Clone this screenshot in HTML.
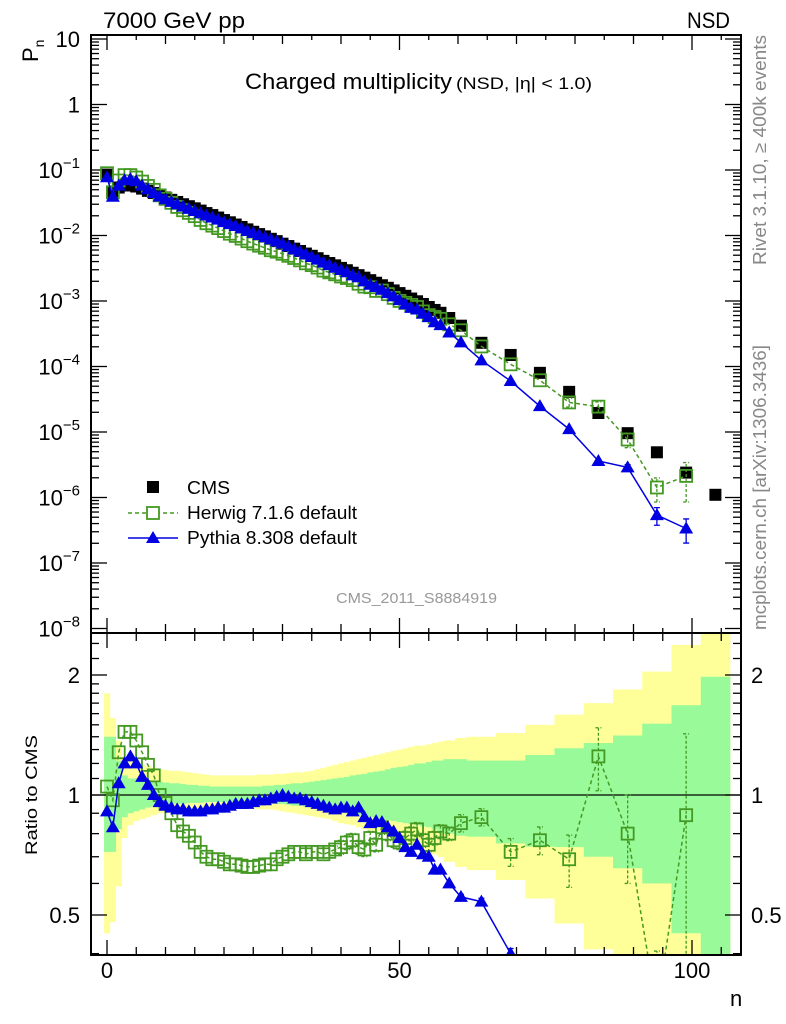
<!DOCTYPE html>
<html><head><meta charset="utf-8"><style>
html,body{margin:0;padding:0;background:#fff;overflow:hidden;width:786px;height:1024px;}
svg{display:block;font-family:"Liberation Sans",sans-serif;}
</style></head><body>
<svg id="chart" width="786" height="1024" viewBox="0 0 786 1024" xmlns="http://www.w3.org/2000/svg">
<defs>
<clipPath id="clipMain"><rect x="91" y="35" width="650" height="598"/></clipPath>
<clipPath id="clipRatio"><rect x="91" y="633" width="650" height="322"/></clipPath>
</defs>
<g id="bands" clip-path="url(#clipRatio)"></g>
<g id="grid"></g>
<g id="mainMarks" clip-path="url(#clipMain)"></g>
<g id="ratioMarks" clip-path="url(#clipRatio)"></g>
<rect x="91" y="35" width="650" height="598" fill="none" stroke="#000" stroke-width="2"/>
<rect x="91" y="633" width="650" height="322" fill="none" stroke="#000" stroke-width="2"/>
<text x="103" y="28" font-size="22" textLength="142" lengthAdjust="spacingAndGlyphs">7000 GeV pp</text>
<text x="687" y="28" font-size="22" textLength="43" lengthAdjust="spacingAndGlyphs">NSD</text>
<text transform="translate(38,62) rotate(-90)" font-size="22">P<tspan font-size="14" dy="6">n</tspan></text>
<text x="245" y="89" font-size="22" textLength="207" lengthAdjust="spacingAndGlyphs">Charged multiplicity</text>
<text x="456" y="89" font-size="17" textLength="136" lengthAdjust="spacingAndGlyphs">(NSD, |η| &lt; 1.0)</text>
<text transform="translate(766,265) rotate(-90)" font-size="18" fill="#888" textLength="230" lengthAdjust="spacingAndGlyphs">Rivet 3.1.10, ≥ 400k events</text>
<text transform="translate(766,630) rotate(-90)" font-size="18" fill="#888" textLength="285" lengthAdjust="spacingAndGlyphs">mcplots.cern.ch [arXiv:1306.3436]</text>
<text x="336" y="603" font-size="15" fill="#999" textLength="161" lengthAdjust="spacingAndGlyphs">CMS_2011_S8884919</text>
<text transform="translate(37,855) rotate(-90)" font-size="17" textLength="120" lengthAdjust="spacingAndGlyphs">Ratio to CMS</text>
<text x="730" y="1006" font-size="22">n</text>
<g>
<rect x="147" y="481" width="12" height="12" fill="#000"/>
<text x="187" y="494" font-size="18" textLength="43" lengthAdjust="spacingAndGlyphs">CMS</text>
<line x1="128" y1="513" x2="178" y2="513" stroke="#449922" stroke-width="1.5" stroke-dasharray="4,3"/>
<rect x="147" y="507" width="12" height="12" fill="#fff" stroke="#449922" stroke-width="1.8"/>
<text x="187" y="519" font-size="18" textLength="170" lengthAdjust="spacingAndGlyphs">Herwig 7.1.6 default</text>
<line x1="128" y1="538" x2="178" y2="538" stroke="#0000e0" stroke-width="1.5"/>
<polygon points="153,531 160,543 146,543" fill="#0000e0"/>
<text x="187" y="544" font-size="18" textLength="170" lengthAdjust="spacingAndGlyphs">Pythia 8.308 default</text>
</g>
</svg>
<script>
const edges = [-0.5,0.5,1.5,2.5,3.5,4.5,5.5,6.5,7.5,8.5,9.5,10.5,11.5,12.5,13.5,14.5,15.5,16.5,17.5,18.5,19.5,20.5,21.5,22.5,23.5,24.5,25.5,26.5,27.5,28.5,29.5,30.5,31.5,32.5,33.5,34.5,35.5,36.5,37.5,38.5,39.5,40.5,41.5,42.5,43.5,44.5,45.5,46.5,47.5,48.5,49.5,50.5,51.5,52.5,53.5,54.5,55.5,56.5,57.5,59.5,61.5,66.5,71.5,76.5,81.5,86.5,91.5,96.5,101.5,106.5];
const cmsValues = [.085,.047,.054,.058,.058,.056,.052,.048,.0445,.041,
.038,.035,.0325,.030,.028,.026,.024,.022,.0205,.0188,
.0172,.0159,.0147,.0135,.0124,.0114,.0105,.0097,.0089,.0082,
.0075,.0069,.0063,.0058,.0053,.0049,.0045,.0041,.0038,.0035,
.0032,.00295,.0027,.00248,.00227,.00208,.0019,.00174,.00159,.00145,
.00132,.0012,.00109,.00099,.0009,.00081,.00073,.00066,
.00055,.00042,.00023,.00015,.00008,.000041,.0000195,.0000096,.0000049,.0000024,.0000011];
const herwigRatio = [1.05,0.97,1.28,1.44,1.44,1.37,1.28,1.19,1.12,1.0,
0.955,0.90,0.84,0.81,0.79,0.76,0.72,0.70,0.69,0.69,
0.68,0.67,0.67,0.665,0.66,0.66,0.665,0.67,0.67,0.69,
0.70,0.71,0.72,0.72,0.71,0.72,0.72,0.71,0.72,0.73,
0.74,0.76,0.77,0.74,0.73,0.78,0.75,0.83,0.80,0.77,
0.76,0.78,0.80,0.82,0.77,0.75,0.78,0.81,
0.80,0.85,0.88,0.72,0.77,0.69,1.25,0.80,0.29,0.89,null];
// relative uncertainties (fraction of value)
const herwigErr = [0.01,0.01,0.01,0.01,0.01,0.01,0.01,0.01,0.01,0.01,
0.01,0.01,0.01,0.01,0.01,0.01,0.01,0.01,0.01,0.01,
0.01,0.01,0.01,0.01,0.01,0.01,0.01,0.01,0.01,0.01,
0.01,0.01,0.01,0.01,0.01,0.01,0.01,0.01,0.01,0.02,
0.04,0.04,0.04,0.04,0.04,0.04,0.04,0.04,0.04,0.04,
0.04,0.04,0.04,0.04,0.04,0.04,0.04,0.04,
0.04,0.05,0.05,0.08,0.08,0.15,0.18,0.25,0.4,0.6,0];
const pythiaRatio = [0.91,0.83,1.07,1.20,1.25,1.20,1.11,1.06,1.0,0.96,
0.94,0.93,0.92,0.92,0.91,0.91,0.91,0.92,0.92,0.93,
0.93,0.94,0.95,0.95,0.95,0.96,0.97,0.97,0.98,0.99,
1.0,0.99,0.98,0.98,0.97,0.96,0.95,0.94,0.93,0.92,
0.93,0.93,0.91,0.93,0.88,0.85,0.86,0.855,0.83,0.81,
0.78,0.74,0.72,0.75,0.71,0.70,0.65,0.65,
0.60,0.555,0.54,0.40,0.31,0.27,0.185,0.30,0.11,0.14,null];
const pythiaErr = [0.005,0.005,0.005,0.005,0.005,0.005,0.005,0.005,0.005,0.005,
0.005,0.005,0.005,0.005,0.005,0.005,0.005,0.005,0.005,0.005,
0.005,0.005,0.005,0.005,0.005,0.005,0.005,0.005,0.005,0.005,
0.005,0.005,0.005,0.005,0.005,0.005,0.005,0.005,0.005,0.005,
0.01,0.01,0.01,0.01,0.01,0.01,0.01,0.01,0.01,0.01,
0.01,0.01,0.01,0.01,0.01,0.01,0.01,0.01,
0.01,0.015,0.02,0.03,0.04,0.05,0.08,0.1,0.3,0.4,0];
const yellowHi = [1.80,1.56,1.37,1.25,1.22,1.20,1.19,1.18,1.17,1.16,
1.155,1.15,1.15,1.145,1.14,1.135,1.13,1.125,1.12,1.12,
1.12,1.12,1.12,1.12,1.12,1.12,1.125,1.125,1.125,1.13,
1.13,1.135,1.14,1.14,1.145,1.15,1.16,1.17,1.18,1.19,
1.20,1.21,1.22,1.23,1.24,1.25,1.26,1.27,1.28,1.29,
1.30,1.31,1.32,1.33,1.33,1.34,1.35,1.36,
1.37,1.39,1.40,1.43,1.50,1.59,1.70,1.84,2.04,2.38,3.0];
const yellowLo = [0.45,0.48,0.59,0.78,0.84,0.86,0.87,0.88,0.89,0.90,
0.90,0.905,0.91,0.91,0.915,0.915,0.92,0.92,0.92,0.92,
0.925,0.925,0.925,0.925,0.925,0.925,0.92,0.92,0.92,0.915,
0.91,0.905,0.90,0.895,0.89,0.885,0.88,0.875,0.87,0.86,
0.85,0.845,0.84,0.83,0.82,0.815,0.81,0.80,0.79,0.78,
0.77,0.76,0.75,0.74,0.73,0.72,0.71,0.70,
0.68,0.66,0.648,0.612,0.55,0.476,0.41,0.3,0.3,0.3,0.3];
const greenHi = [1.40,1.40,1.22,1.12,1.10,1.10,1.09,1.09,1.08,1.08,
1.075,1.07,1.07,1.065,1.06,1.06,1.055,1.055,1.05,1.05,
1.05,1.05,1.05,1.05,1.05,1.05,1.05,1.055,1.055,1.06,
1.06,1.065,1.07,1.07,1.075,1.08,1.085,1.09,1.095,1.10,
1.105,1.11,1.12,1.125,1.13,1.14,1.145,1.15,1.16,1.17,
1.175,1.18,1.19,1.20,1.20,1.21,1.22,1.22,
1.23,1.23,1.22,1.22,1.26,1.31,1.35,1.41,1.51,1.68,1.98];
const greenLo = [0.72,0.72,0.82,0.88,0.90,0.91,0.92,0.93,0.935,0.94,
0.945,0.95,0.95,0.95,0.955,0.955,0.955,0.96,0.96,0.96,
0.96,0.96,0.96,0.96,0.96,0.96,0.96,0.955,0.955,0.95,
0.95,0.945,0.94,0.94,0.935,0.93,0.925,0.92,0.915,0.91,
0.905,0.90,0.895,0.89,0.885,0.88,0.875,0.87,0.865,0.86,
0.855,0.85,0.845,0.84,0.835,0.83,0.82,0.81,
0.80,0.79,0.786,0.756,0.742,0.74,0.70,0.655,0.60,0.45,0.3];
const xTickLabels = ["0","50","100"];
const xTickValues = [0,50,100];
const ratioTickValues = [0.5,1,2];
const ratioTickLabels = ["0.5","1","2"];

const NS = "http://www.w3.org/2000/svg";
const XR = 741;
function X(n){ return 107 + n*5.85; }
function Ym(v){ return 104.5 - 65.5*Math.log10(v); }
function Yr(r){ return 795 - 120*Math.log2(r); }
function mk(tag, attrs, parent){ const e=document.createElementNS(NS,tag); for(const k in attrs) e.setAttribute(k,attrs[k]); parent.appendChild(e); return e; }
const centers = []; for(let i=0;i<edges.length-1;i++) centers.push((edges[i]+edges[i+1])/2);

const bands = document.getElementById('bands');
for(let i=0;i<centers.length;i++){
  const x0=X(edges[i]), x1=X(edges[i+1]);
  const y = mk('rect',{x:x0,y:Yr(yellowHi[i]),width:x1-x0+0.3,height:Yr(yellowLo[i])-Yr(yellowHi[i]),fill:'#ffff99'},bands);
  
  
}
for(let i=0;i<centers.length;i++){
  const x0=X(edges[i]), x1=X(edges[i+1]);
  const g = mk('rect',{x:x0,y:Yr(greenHi[i]),width:x1-x0+0.3,height:Yr(greenLo[i])-Yr(greenHi[i]),fill:'#99fa99'},bands);
  
  
}

const grid = document.getElementById('grid');
function tick(x1,y1,x2,y2){ const t=mk('line',{x1,y1,x2,y2,stroke:'#000','stroke-width':1.3},grid);
  
   }
for(let d=-8; d<=1; d++){
  for(let m=1;m<=9;m++){
    const v=m*Math.pow(10,d); const y=Ym(v);
    if(y<35||y>633) continue;
    const L = m===1?16:8;
    tick(91,y,91+L,y); tick(XR,y,XR-L,y);
  }
  const y=Ym(Math.pow(10,d));
  const lab = mk('text',{x:80,y:y+8,'font-size':22,'text-anchor':'end'},grid);
  if(d===0) lab.textContent='1';
  else if(d===1) lab.textContent='10';
  else lab.innerHTML = '10<tspan font-size="15" dy="-10">−'+(-d)+'</tspan>';
  
  
}
for(let n=0;n<=105;n+=5){
  const major = n%50===0;
  const x=X(n);
  const L1 = major?15:(n%10===0?9:5);
  tick(x,35,x,35+L1); tick(x,633,x,633-L1);
  const L2 = major?15:8;
  tick(x,955,x,955-L2); tick(x,633,x,633+L2);
}
for(let i=0;i<xTickValues.length;i++){
  const t=mk('text',{x:X(xTickValues[i]),y:978,'font-size':22,'text-anchor':'middle'},grid);
  t.textContent=xTickLabels[i];
  
  
}
const rMinor=[0.4,0.5,0.6,0.7,0.8,0.9,1,1.1,1.2,1.3,1.4,1.5,1.6,1.7,1.8,1.9,2,2.2,2.4];
rMinor.forEach(r=>{ const y=Yr(r); if(y<633||y>955) return; const L=(r===0.5||r===1||r===2)?16:8; tick(91,y,91+L,y); tick(XR,y,XR-L,y); });
for(let i=0;i<ratioTickValues.length;i++){
  const y=Yr(ratioTickValues[i]);
  const a=mk('text',{x:80,y:y+8,'font-size':22,'text-anchor':'end'},grid); a.textContent=ratioTickLabels[i];
  
  
  const b=mk('text',{x:751,y:y+8,'font-size':22},grid); b.textContent=ratioTickLabels[i];
  
  
}
const ref=mk('line',{x1:91,y1:Yr(1),x2:XR,y2:Yr(1),stroke:'#000','stroke-width':1.3},grid);



const GREEN='#449922', BLUE='#0000e0';
function drawSeries(parent, xs, ys, errLo, errHi, color, dashed, shape, name){
  let d=''; let started=false;
  for(let i=0;i<xs.length;i++){ if(ys[i]==null) continue; d += (started?'L':'M')+X(xs[i]).toFixed(1)+','+ys[i].toFixed(1); started=true; }
  if(color){ const p=mk('path',{d,fill:'none',stroke:color,'stroke-width':1.5,'stroke-dasharray':dashed?'4,3':'none'},parent);
    
     }
  for(let i=0;i<xs.length;i++){
    if(ys[i]==null) continue;
    const x=X(xs[i]), y=ys[i];
    if(errLo && Math.abs(errHi[i]-errLo[i])>5){
      const e=mk('path',{d:`M${x},${errLo[i]}L${x},${errHi[i]}M${x-3},${errLo[i]}L${x+3},${errLo[i]}M${x-3},${errHi[i]}L${x+3},${errHi[i]}`,stroke:color,'stroke-width':1.3,'stroke-dasharray':dashed?'3,2':'none',fill:'none'},parent);
      
      
    }
    let m;
    if(shape==='fill') m=mk('rect',{x:x-6,y:y-6,width:12,height:12,fill:'#000'},parent);
    else if(shape==='open') m=mk('rect',{x:x-6,y:y-6,width:12,height:12,fill:'none',stroke:GREEN,'stroke-width':1.8},parent);
    else m=mk('polygon',{points:`${x},${y-7} ${x+7},${y+5} ${x-7},${y+5}`,fill:BLUE},parent);
    
    
  }
}
const mainG=document.getElementById('mainMarks');
const ratioG=document.getElementById('ratioMarks');
const hv=[],hl=[],hh=[],pv=[],pl=[],ph=[],cv=[];
const hrv=[],hrl=[],hrh=[],prv=[],prl=[],prh=[];
for(let i=0;i<centers.length;i++){
  cv.push(Ym(cmsValues[i]));
  if(herwigRatio[i]==null){hv.push(null);hl.push(null);hh.push(null);hrv.push(null);hrl.push(null);hrh.push(null);}
  else{ const r=herwigRatio[i], v=cmsValues[i]*r, e=herwigErr[i];
    hv.push(Ym(v)); hl.push(Ym(v*Math.max(1-e,0.3))); hh.push(Ym(v*(1+e)));
    hrv.push(Yr(r)); hrl.push(Yr(r*Math.max(1-e,0.1))); hrh.push(Yr(r*(1+e))); }
  if(pythiaRatio[i]==null){pv.push(null);pl.push(null);ph.push(null);prv.push(null);prl.push(null);prh.push(null);}
  else{ const r=pythiaRatio[i], v=cmsValues[i]*r, e=pythiaErr[i];
    pv.push(Ym(v)); pl.push(Ym(v*(1-e))); ph.push(Ym(v*(1+e)));
    prv.push(Yr(r)); prl.push(Yr(r*(1-e))); prh.push(Yr(r*(1+e))); }
}
drawSeries(mainG, centers, cv, null, null, null, false, 'fill', 'cms');
drawSeries(mainG, centers, hv, hl, hh, GREEN, true, 'open', 'herwig');
drawSeries(mainG, centers, pv, pl, ph, BLUE, false, 'tri', 'pythia');
drawSeries(ratioG, centers, hrv, hrl, hrh, GREEN, true, 'open', 'herwig-ratio');
drawSeries(ratioG, centers, prv, prl, prh, BLUE, false, 'tri', 'pythia-ratio');
</script>
</body></html>
